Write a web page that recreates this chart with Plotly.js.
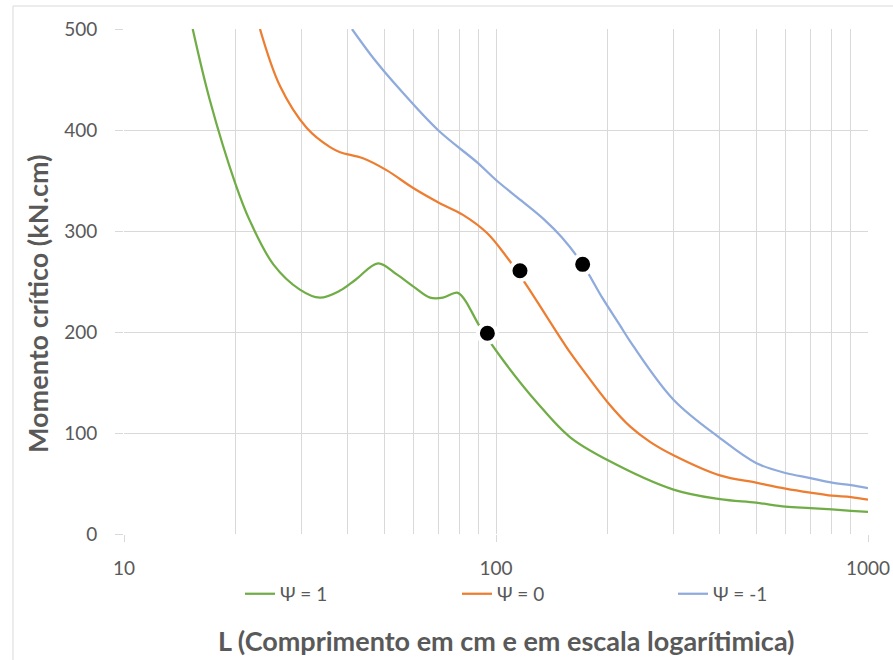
<!DOCTYPE html>
<html>
<head>
<meta charset="utf-8">
<script src="https://cdn.plot.ly/plotly-3.0.1.min.js"></script>
<style>
  html, body { margin: 0; padding: 0; background: #ffffff; }
  #chart { width: 893px; height: 660px; }
</style>
</head>
<body>
<div id="chart"></div>
<script>
// ---- Data ----
const seriesNames = ["Ψ = 1", "Ψ = 0", "Ψ = -1"];

const greenL = [15.3, 17.0, 19.9, 21.8, 25.2, 29.7, 33.6, 38.1, 42, 48.2, 54.1, 60, 66.5, 72, 78.6, 82, 90.6, 104.5, 129, 158, 200, 300, 400, 500, 600, 700, 800, 900, 1000];
const greenM = [500, 430, 347.5, 310, 267, 242, 234, 241, 252, 268, 257, 245, 234, 234, 239, 233, 205, 172, 130, 96, 73, 44, 34.5, 31, 27, 25.7, 24.3, 23, 22];

const orangeL = [23.2, 26.3, 31.0, 35.8, 38.1, 43.9, 50.9, 59.9, 70.6, 81.5, 94.6, 107, 121, 137, 158, 170, 200, 230, 260, 300, 400, 500, 600, 700, 800, 900, 1000];
const orangeM = [500, 443, 402, 383, 378, 372, 360, 342.5, 327.5, 316, 298, 274, 246, 215, 180, 164, 130, 106, 91, 78, 58, 50.8, 45, 41, 38, 36.6, 34];

const blueL = [41, 47.3, 55.2, 69.8, 89.6, 100, 117, 135, 150, 171, 193, 215, 233, 300, 400, 500, 600, 700, 800, 900, 1000];
const blueM = [500, 469, 440, 400, 367, 350.5, 330, 311, 294, 267, 234, 207, 187, 133, 95, 70.3, 60.4, 55.4, 50.8, 48.5, 45.5];

// highlighted points
const dotL = [94.8, 116, 171];
const dotM = [198.7, 260.7, 267];

const xTickVals = [10, 100, 1000];
const xTickText = ["10", "100", "1000"];
const yTickVals = [0, 100, 200, 300, 400, 500];

const xTitle = "L (Comprimento em cm e em escala logarítimica)";
const yTitle = "Momento crítico (kN.cm)";

const colors = ["#70ad47", "#ed7d31", "#8faadc"];
const grid = "#d9d9d9";
const txt = "#595959";
const fontFam = "Lato, 'Open Sans', 'Liberation Sans', sans-serif";

const traces = [
  { x: greenL, y: greenM, name: seriesNames[0], mode: "lines", legend: "legend",
    line: { color: colors[0], width: 2.25, shape: "spline", smoothing: 1 } },
  { x: orangeL, y: orangeM, name: seriesNames[1], mode: "lines", legend: "legend2",
    line: { color: colors[1], width: 2.25, shape: "spline", smoothing: 1 } },
  { x: blueL, y: blueM, name: seriesNames[2], mode: "lines", legend: "legend3",
    line: { color: colors[2], width: 2.25, shape: "spline", smoothing: 1 } },
  { x: dotL, y: dotM, mode: "markers", showlegend: false, hoverinfo: "skip",
    marker: { color: "#000000", size: 19, line: { color: "#ffffff", width: 4 } } }
];

function legendAt(px) {
  return {
    orientation: "h", x: (px - 124) / 744, xanchor: "left", y: -0.081, yanchor: "top",
    font: { family: fontFam, size: 19, color: txt },
    bgcolor: "rgba(0,0,0,0)"
  };
}

const layout = {
  width: 893, height: 660,
  margin: { l: 124, r: 25, t: 29, b: 126 },
  paper_bgcolor: "#ffffff", plot_bgcolor: "#ffffff",
  font: { family: fontFam, color: txt, size: 19 },
  showlegend: true,
  legend: legendAt(240),
  legend2: legendAt(457),
  legend3: legendAt(673),
  xaxis: {
    type: "log", range: [1, 3],
    tickmode: "array", tickvals: xTickVals, ticktext: xTickText,
    showgrid: true, gridcolor: grid, gridwidth: 1,
    minor: { dtick: "D1", showgrid: true, gridcolor: grid, gridwidth: 1, ticks: "" },
    ticks: "outside", ticklen: 7, tickcolor: grid, ticklabelstandoff: 10,
    zeroline: false, showline: false,
    tickfont: { family: fontFam, size: 19, color: txt },
    automargin: false, fixedrange: true
  },
  yaxis: {
    range: [0, 500], tickmode: "array", tickvals: yTickVals,
    showgrid: true, gridcolor: grid, gridwidth: 1,
    ticks: "outside", ticklen: 8, tickcolor: grid, ticklabelstandoff: 14,
    zeroline: false, showline: false,
    tickfont: { family: fontFam, size: 19, color: txt },
    automargin: false, fixedrange: true
  },
  annotations: [
    { text: "<b>" + xTitle + "</b>", xref: "paper", yref: "paper",
      x: (506 - 124) / 744, y: (534 - 640) / 505, xanchor: "center", yanchor: "middle",
      showarrow: false, font: { family: fontFam, size: 27, color: txt } },
    { text: "<b>" + yTitle + "</b>", xref: "paper", yref: "paper", textangle: -90,
      x: (37 - 124) / 744, y: (534 - 304) / 505, xanchor: "center", yanchor: "middle",
      showarrow: false, font: { family: fontFam, size: 27, color: txt } }
  ],
  shapes: [
    { type: "rect", xref: "paper", yref: "paper",
      x0: (13 - 124) / 744, x1: (900 - 124) / 744,
      y0: (534 - 670) / 505, y1: (534 - 6) / 505,
      line: { color: grid, width: 1 }, fillcolor: "rgba(0,0,0,0)", layer: "below" }
  ]
};

Plotly.newPlot("chart", traces, layout, { displayModeBar: false, staticPlot: true });
</script>
</body>
</html>
